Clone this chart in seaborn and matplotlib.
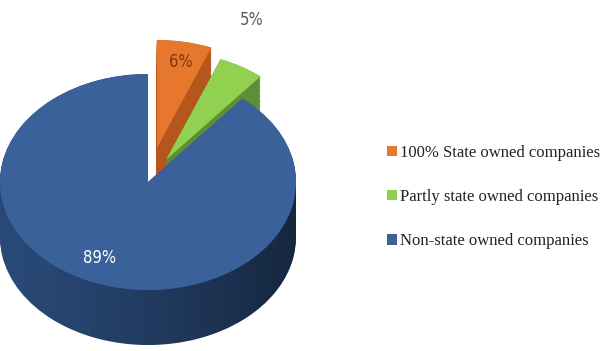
import matplotlib
matplotlib.use("Agg")
import matplotlib.pyplot as plt
from matplotlib.path import Path
from matplotlib.patches import PathPatch
import seaborn as sns
import numpy as np

sns.set_theme(style="white")

# Ownership shares (percent)
categories = ["100% State owned companies", "Partly state owned companies", "Non-state owned companies"]
shares = [6, 5, 89]
top_colors = ["#e8772e", "#92d050", "#3a6199"]
side_colors = ["#b5561c", "#5e8f36", "#2b4d7d"]
explode = [0.32, 0.24, 0.0]

fig = plt.figure(figsize=(6.02, 3.51), dpi=100)
ax = fig.add_axes([0, 0, 1, 1])

# pixel -> data helpers for the squashed (3D-looking) layout
CX, CY, SX, SY = 148.0, 182.0, 148.0, 108.0
def px(x, y):
    return (x - CX) / SX, (CY - y) / SY

depth = 55.0 / SY
steps = 45
for d in np.linspace(depth, 0.0, steps):
    ax.pie(shares, colors=side_colors, explode=explode, startangle=90,
           counterclock=False, center=(0, -d), radius=1.0,
           wedgeprops=dict(linewidth=0))

# darken the front wall of the cylinder towards the right
xs = np.linspace(-1, 1, 200)
upper = -np.sqrt(np.clip(1 - xs**2, 0, None))
lower = upper - depth
verts = np.concatenate([np.c_[xs, upper], np.c_[xs[::-1], lower[::-1]]])
band = PathPatch(Path(verts), facecolor="none", edgecolor="none")
ax.add_patch(band)
grad = np.linspace(0.0, 1.0, 256)[None, :]
shade = np.zeros((1, 256, 4))
shade[..., 3] = 0.05 + 0.45 * grad ** 1.3
img = ax.imshow(shade, extent=(-1, 1, -1 - depth, 0), aspect="auto",
                interpolation="bilinear", zorder=1.5)
img.set_clip_path(band)

wedges, _, autotexts = ax.pie(
    shares, colors=top_colors, explode=explode, startangle=90,
    counterclock=False, center=(0, 0), radius=1.0,
    autopct=lambda p: f"{p:.0f}%", pctdistance=0.6,
    wedgeprops=dict(linewidth=0, zorder=2),
    textprops=dict(fontsize=12, family="DejaVu Sans", stretch="condensed"))

label_pos = [px(181, 62), px(252, 20), px(100, 258)]
label_col = ["#7a3a10", "#595959", "white"]
for t, pos, c in zip(autotexts, label_pos, label_col):
    t.set_position(pos)
    t.set_color(c)
    t.set_zorder(5)

ax.set_aspect("auto")
ax.set_xlim((0 - CX) / SX, (602 - CX) / SX)
ax.set_ylim((CY - 351) / SY, CY / SY)
ax.axis("off")

leg = ax.legend(wedges, categories, loc="center left",
                bbox_to_anchor=(380 / 602, 1 - 197 / 351),
                frameon=False, handlelength=0.6, handleheight=0.6,
                handletextpad=0.2, labelspacing=1.7, borderaxespad=0,
                prop=dict(family="Liberation Serif", size=12))
for txt in leg.get_texts():
    txt.set_color("#222222")

fig.savefig("out.png", dpi=100, facecolor="white")
